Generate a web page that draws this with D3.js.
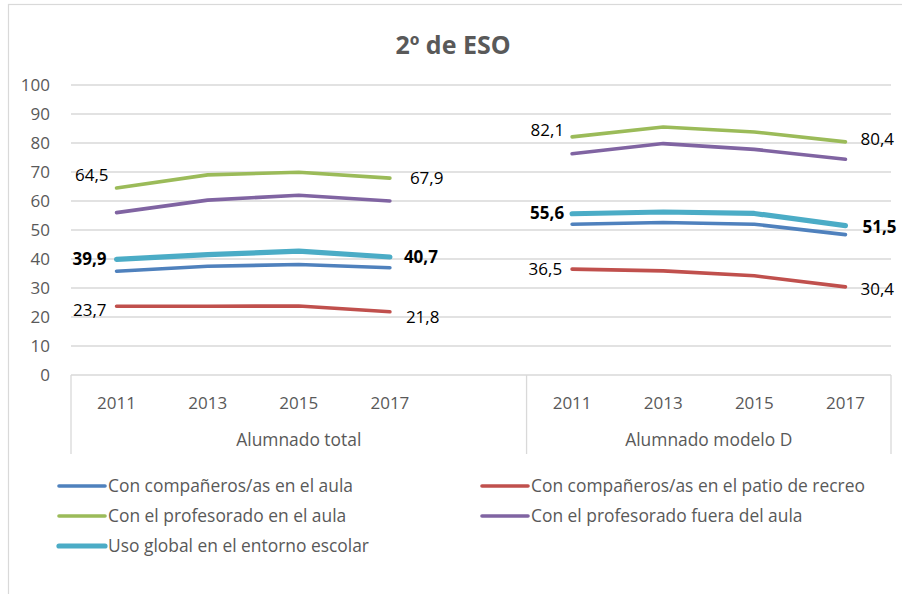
<!DOCTYPE html>
<html>
<head>
<meta charset="utf-8">
<script src="https://cdn.jsdelivr.net/npm/d3@7"></script>
<style>
  html, body { margin: 0; padding: 0; background: #fff; }
  svg { display: block; font-family: "Open Sans", "Noto Sans", sans-serif; }
</style>
</head>
<body>
<svg id="chart" width="902" height="594"></svg>
<script>
// Category groups and years on the x axis
const groups = ["Alumnado total", "Alumnado modelo D"];
const years = ["2011", "2013", "2015", "2017"];
const yTicks = [0, 10, 20, 30, 40, 50, 60, 70, 80, 90, 100];

// Series names (legend order) and values: [Alumnado total..., Alumnado modelo D...]
const seriesNames = [
  "Con compañeros/as en el aula",
  "Con compañeros/as en el patio de recreo",
  "Con el profesorado  en el aula",
  "Con el profesorado  fuera del aula",
  "Uso global en el entorno escolar"
];
const companerosAula   = [[35.8, 37.5, 38.1, 37.0], [52.0, 52.6, 52.0, 48.4]];
const companerosPatio  = [[23.7, 23.7, 23.8, 21.8], [36.5, 35.9, 34.2, 30.4]];
const profesoradoAula  = [[64.5, 69.0, 69.9, 67.9], [82.1, 85.5, 83.8, 80.4]];
const profesoradoFuera = [[56.0, 60.3, 62.0, 60.0], [76.3, 79.8, 77.8, 74.4]];
const usoGlobal        = [[39.9, 41.5, 42.7, 40.7], [55.6, 56.2, 55.7, 51.5]];

const seriesValues = [companerosAula, companerosPatio, profesoradoAula, profesoradoFuera, usoGlobal];
const seriesColors = ["#4f81bd", "#c0504d", "#9bbb59", "#8064a2", "#4bacc6"];
const seriesWidths = [3.6, 3.6, 3.6, 3.6, 5.2];

// Which series carry end-point value labels, and whether they are bold
const labelled = [
  { s: 1, bold: false }, { s: 2, bold: false }, { s: 4, bold: true }
];

const svg = d3.select("#chart");
const W = 902, H = 594;
const plot = { left: 71, right: 891, top: 85, bottom: 375 };

// Outer chart frame
svg.append("rect")
  .attr("x", 8.5).attr("y", 4.5)
  .attr("width", W).attr("height", H)
  .attr("fill", "#fff").attr("stroke", "#d9d9d9").attr("stroke-width", 1.2);

// Category keys: a blank slot closes the first group
const keys = [];
groups.forEach((g, gi) => {
  years.forEach(y => keys.push(gi + "|" + y));
  if (gi === 0) keys.push("0|blank");
});

const x = d3.scaleBand().domain(keys).range([plot.left, plot.right]).padding(0);
const xc = k => x(k) + x.bandwidth() / 2;
const y = d3.scaleLinear().domain([0, 100]).range([plot.bottom, plot.top]);

// Horizontal gridlines
svg.append("g")
  .selectAll("line")
  .data(yTicks.filter(t => t > 0))
  .join("line")
  .attr("x1", plot.left).attr("x2", plot.right)
  .attr("y1", d => y(d)).attr("y2", d => y(d))
  .attr("stroke", "#d9d9d9").attr("stroke-width", 1.3);

// Y axis tick labels
const yAxis = d3.axisLeft(y).tickValues(yTicks).tickSize(0).tickPadding(0).tickFormat(d3.format("d"));
svg.append("g")
  .attr("transform", `translate(50,0)`)
  .call(yAxis)
  .call(g => g.select(".domain").remove())
  .call(g => g.selectAll("text")
    .attr("fill", "#595959").attr("font-size", 17).attr("dy", "0.35em")
    .style("font-family", "Open Sans, Noto Sans, sans-serif"));

// X axis baseline
svg.append("line")
  .attr("x1", plot.left).attr("x2", plot.right)
  .attr("y1", plot.bottom).attr("y2", plot.bottom)
  .attr("stroke", "#d9d9d9").attr("stroke-width", 1.3);

// Group separators running down through the category labels
const groupEdges = [x("0|2011"), x("1|2011"), plot.right];
svg.append("g")
  .selectAll("line")
  .data(groupEdges)
  .join("line")
  .attr("x1", d => d).attr("x2", d => d)
  .attr("y1", plot.bottom).attr("y2", 454)
  .attr("stroke", "#d9d9d9").attr("stroke-width", 1.3);

// Year labels
svg.append("g")
  .selectAll("text")
  .data(keys.filter(k => !k.endsWith("blank")))
  .join("text")
  .attr("x", d => xc(d)).attr("y", 409)
  .attr("text-anchor", "middle")
  .attr("fill", "#595959").attr("font-size", 17)
  .text(d => d.split("|")[1]);

// Group labels
svg.append("g")
  .selectAll("text")
  .data(groups)
  .join("text")
  .attr("x", (d, i) => (groupEdges[i] + groupEdges[i + 1]) / 2)
  .attr("y", 446)
  .attr("text-anchor", "middle")
  .attr("fill", "#595959").attr("font-size", 17.4)
  .text(d => d);

// Series lines, one segment per group
const line = d3.line().x(d => xc(d.key)).y(d => y(d.v));
seriesValues.forEach((vals, si) => {
  vals.forEach((gv, gi) => {
    const pts = gv.map((v, i) => ({ key: gi + "|" + years[i], v }));
    svg.append("path")
      .datum(pts)
      .attr("d", line)
      .attr("fill", "none")
      .attr("stroke", seriesColors[si])
      .attr("stroke-width", seriesWidths[si])
      .attr("stroke-linecap", "round")
      .attr("stroke-linejoin", "round");
  });
});

// End-point value labels (first year on the left, last year on the right)
const fmt = v => d3.format(".1f")(v).replace(".", ",");
const labelOffsets = {
  // [group][series] -> [start dx, start dy, end dx, end dy]
  "0|2": [-8, -13, 20, 0],
  "0|4": [-10, 0, 14, 0],
  "0|1": [-10, 4, 16, 5],
  "1|2": [-8, -7, 15, -3],
  "1|4": [-8, -1, 17, 1],
  "1|1": [-10, 0, 15, 2]
};
labelled.forEach(({ s, bold }) => {
  seriesValues[s].forEach((gv, gi) => {
    const off = labelOffsets[gi + "|" + s];
    const first = { key: gi + "|" + years[0], v: gv[0] };
    const last = { key: gi + "|" + years[3], v: gv[3] };
    svg.append("text")
      .attr("x", xc(first.key) + off[0]).attr("y", y(first.v) + off[1])
      .attr("dy", "0.35em").attr("text-anchor", "end")
      .attr("font-size", 17).attr("font-weight", bold ? 700 : 400)
      .attr("fill", "#000")
      .text(fmt(first.v));
    svg.append("text")
      .attr("x", xc(last.key) + off[2]).attr("y", y(last.v) + off[3])
      .attr("dy", "0.35em").attr("text-anchor", "start")
      .attr("font-size", 17).attr("font-weight", bold ? 700 : 400)
      .attr("fill", "#000")
      .text(fmt(last.v));
  });
});

// Title
svg.append("text")
  .attr("x", 453).attr("y", 54)
  .attr("text-anchor", "middle")
  .attr("font-size", 25).attr("font-weight", 700)
  .attr("fill", "#595959")
  .text("2º de ESO");

// Legend: two columns, three rows
const legend = svg.append("g");
const legendItems = seriesNames.map((name, i) => ({
  name, color: seriesColors[i], width: seriesWidths[i],
  col: i % 2, row: Math.floor(i / 2)
}));
const colX = [59, 482], rowY = [486, 516, 546];
const item = legend.selectAll("g").data(legendItems).join("g")
  .attr("transform", d => `translate(${colX[d.col]},${rowY[d.row]})`);
item.append("line")
  .attr("x1", 0).attr("x2", 46).attr("y1", 0).attr("y2", 0)
  .attr("stroke", d => d.color).attr("stroke-width", d => d.width)
  .attr("stroke-linecap", "round");
item.append("text")
  .attr("x", 49).attr("y", 0).attr("dy", "0.35em")
  .attr("fill", "#595959").attr("font-size", 17.4)
  .text(d => d.name);
</script>
</body>
</html>
